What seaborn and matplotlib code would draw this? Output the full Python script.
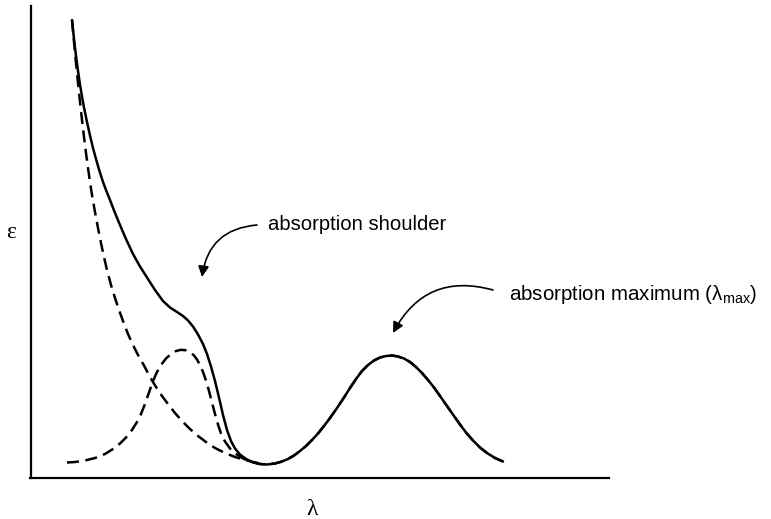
import matplotlib
matplotlib.use("Agg")
import matplotlib.pyplot as plt
import seaborn as sns

# Absorption spectrum (arbitrary units): total envelope
lam_total = [72, 74, 76, 78, 80, 82, 84, 87, 90, 93, 96, 99, 103, 106, 110, 115, 120, 126, 133,
             140, 147, 155, 163, 170, 177, 183, 188, 193, 198, 203, 207, 211, 215, 219, 223,
             227, 231, 235, 240, 246, 253, 260, 267, 275, 282, 288, 294, 300, 306, 312, 318,
             324, 330, 337, 344, 350, 356, 362, 368, 374, 380, 386, 392, 398, 404, 410, 416,
             422, 428, 434, 440, 447, 454, 460, 466, 473, 480, 487, 495, 503]
eps_total = [458, 439, 422, 407, 393.5, 381.5, 370.5, 356, 342.5, 330, 319, 308.5, 296, 288, 278,
             265, 253, 239, 224, 211.5, 200.5, 188, 177, 170.5, 166, 162, 157.5, 151.5, 143.5,
             134, 124, 111.5, 97, 80.5, 63, 48, 37, 29.5, 23.5, 19, 15.7, 14, 13.5, 14.5, 16.5,
             19, 22.5, 27, 32, 38, 44.5, 52, 60, 70, 80.5, 90, 99, 107, 113, 117.5, 120.5, 122,
             122.5, 121.5, 119.5, 116, 111, 105, 98, 90.5, 82, 72, 62, 53.5, 45.5, 37.5, 30.5,
             25, 20, 16.5]

# Short-wavelength tail band
lam_tail = [72, 74, 76, 78, 80, 82, 84, 86, 88, 90, 92, 95, 98, 101, 104, 107, 111, 115, 119,
            123, 128, 133, 138, 144, 150, 156, 162, 168, 175, 182, 190, 198, 206, 215, 225,
            235, 245, 255, 265]
eps_tail = [458, 436, 415, 395, 376, 358, 341, 325, 310, 296, 283, 266, 250, 235, 221, 208, 193,
            180, 168, 157, 144, 133, 123, 112.5, 101, 91, 82, 74, 65, 57, 49, 42, 36, 30, 25,
            21, 18, 15.5, 14]

# Hidden band responsible for the shoulder
lam_shoulder = [67, 75, 85, 95, 105, 113, 120, 126, 132, 137, 141, 145, 149, 153, 157, 161, 166,
                171, 176, 181, 186, 190, 194, 197, 200, 203, 206, 209, 212, 215, 218, 221, 225,
                230, 236, 243, 250, 258]
eps_shoulder = [15.5, 16, 17.5, 20, 24, 29, 34.5, 40.5, 48, 56, 64, 74, 85.5, 97, 106, 113, 119.5,
                124, 127, 128.2, 127.7, 126, 122.5, 118.5, 113, 106, 97.5, 87, 75.5, 64, 53.5,
                44.5, 36.5, 29.5, 24, 19.5, 16.5, 14.5]

# Band giving the absorption maximum
lam_band = [253, 260, 267, 275, 282, 288, 294, 300, 306, 312, 318, 324, 330, 337, 344, 350, 356,
            362, 368, 374, 380, 386, 392, 398, 404, 410, 416, 422, 428, 434, 440, 447, 454, 460,
            466, 473, 480, 487, 495, 503]
eps_band = [15.7, 14, 13.5, 14.5, 16.5, 19, 22.5, 27, 32, 38, 44.5, 52, 60, 70, 80.5, 90, 99,
            107, 113, 117.5, 120.5, 122, 122.5, 121.5, 119.5, 116, 111, 105, 98, 90.5, 82, 72,
            62, 53.5, 45.5, 37.5, 30.5, 25, 20, 16.5]

sns.set_theme(style="white")
plt.rcParams["font.family"] = ["Liberation Sans", "DejaVu Sans"]
plt.rcParams["mathtext.fontset"] = "custom"
plt.rcParams["mathtext.rm"] = "Liberation Sans"
plt.rcParams["mathtext.it"] = "Liberation Sans:italic"
plt.rcParams["text.color"] = "black"
plt.rcParams["axes.labelcolor"] = "black"

fig = plt.figure(figsize=(7.71, 5.19), dpi=100)
ax = fig.add_axes([30.5 / 771, 41 / 519, 578.5 / 771, 472 / 519])

line_kw = dict(color="black", linewidth=1.8, estimator=None, sort=False, ax=ax)
dash = (0, (4.8, 2.6))

sns.lineplot(x=lam_tail, y=eps_tail, linestyle=dash, **line_kw)
sns.lineplot(x=lam_shoulder, y=eps_shoulder, linestyle=dash, **line_kw)
sns.lineplot(x=lam_total, y=eps_total, linestyle="-", **line_kw)
sns.lineplot(x=lam_band, y=eps_band, linestyle=dash, **line_kw)

ax.set_xlim(30.5, 609)
ax.set_ylim(0, 472)
ax.set_xticks([])
ax.set_yticks([])
for side in ("top", "right"):
    ax.spines[side].set_visible(False)
for side in ("left", "bottom"):
    ax.spines[side].set_color("black")
    ax.spines[side].set_linewidth(1.6)

serif = ["Liberation Serif", "DejaVu Serif"]
ax.set_xlabel("λ", fontsize=17, family=serif, va="top")
ax.set_ylabel("ε", fontsize=17, family=serif, rotation=0, va="center", ha="center")
ax.xaxis.set_label_coords(0.487, -0.045)
ax.yaxis.set_label_coords(-0.034, 0.52)

arrow_kw = dict(arrowstyle="-|>", color="black", lw=1.2, mutation_scale=16,
                shrinkA=0, shrinkB=0, connectionstyle="arc3,rad=0.4")

ax.text(268, 248, "absorption shoulder", fontsize=14.6, ha="left", va="baseline")
ax.annotate("", xy=(202, 201), xytext=(257, 253), arrowprops=arrow_kw)

ax.text(509, 178, r"absorption maximum (λ$_{\rm max}$)", fontsize=14.8, ha="left", va="baseline")
ax.annotate("", xy=(393, 145), xytext=(493, 188), arrowprops=arrow_kw)

fig.savefig("out.png", dpi=100)
